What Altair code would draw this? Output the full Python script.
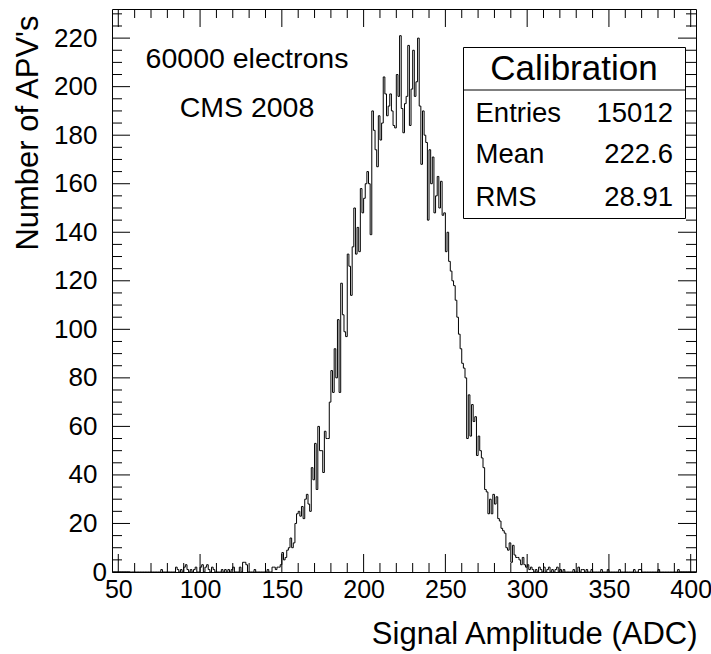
import altair as alt
import pandas as pd

# ---------------- data ----------------
bin_width = 1
first_bin = 46
last_bin = 403

# sparse low-count tails
tail_left_bins = [76, 85, 86, 88, 90, 91, 92, 94, 96, 97, 100, 101, 103, 104, 105, 107, 108,
                  113, 115, 117, 119, 120, 124, 126, 127, 128, 133, 141, 144, 145]
tail_left_counts = [1, 2, 1, 1, 2, 3, 1, 1, 1, 2, 2, 3, 2, 3, 1, 2, 1,
                    1, 1, 1, 1, 2, 2, 4, 4, 3, 1, 1, 2, 2]

core_start = 146
core_counts = [
    1, 2, 2, 3, 8, 5, 6, 9, 10, 14,            # 146-155
    10, 12, 20, 24, 25, 23, 27, 22, 30, 32,     # 156-165
    28, 25, 43, 38, 53, 34, 60, 50, 50, 41,     # 166-175
    58, 55, 55, 70, 83, 74, 92, 80, 104, 74,    # 176-185
    119, 106, 99, 97, 131, 126, 114, 134, 150, 131,    # 186-195
    142, 132, 158, 148, 154, 160, 165, 160, 139, 190,  # 196-205
    182, 174, 167, 188, 178, 185, 204, 197, 188, 192,  # 206-215
    197, 190, 184, 183, 205, 196, 221, 191, 181, 193,  # 216-225
    196, 217, 184, 199, 215, 196, 202, 220, 192, 168,  # 226-235
    190, 180, 177, 145, 174, 160, 171, 148, 155, 163,  # 236-245
    150, 161, 147, 148, 132, 140, 128, 124, 120, 118,  # 246-255
    112, 105, 98, 92, 86, 84, 80, 55, 73, 56,          # 256-265
    69, 62, 64, 48, 56, 50, 47, 43, 34, 33,            # 266-275
    24, 30, 24, 32, 28, 31, 22, 21, 18, 17,            # 276-285
    16, 10, 9, 12, 4, 11, 7, 6, 6, 5,                  # 286-295
    3, 6, 3, 2, 3, 1, 2, 1,                            # 296-303
]

tail_right_bins = [305, 307, 308, 310, 312, 313, 315, 317, 318, 320, 322, 328, 331, 333,
                   334, 336, 339, 345, 349, 356, 365, 368, 369, 380, 392]
tail_right_counts = [1, 2, 1, 2, 1, 2, 1, 1, 2, 1, 1, 1, 2, 1,
                     1, 1, 1, 1, 1, 1, 1, 1, 1, 1, 1]

x_major = [50, 100, 150, 200, 250, 300, 350, 400]
x_minor = [60, 70, 80, 90, 110, 120, 130, 140, 160, 170, 180, 190, 210, 220, 230, 240,
           260, 270, 280, 290, 310, 320, 330, 340, 360, 370, 380, 390]
y_major = [0, 20, 40, 60, 80, 100, 120, 140, 160, 180, 200, 220]
y_minor = [5, 10, 15, 25, 30, 35, 45, 50, 55, 65, 70, 75, 85, 90, 95, 105, 110, 115,
           125, 130, 135, 145, 150, 155, 165, 170, 175, 185, 190, 195, 205, 210, 215,
           225, 230]

x_domain = [46.15, 403.24]
y_domain = [0, 232]

stats_title = "Calibration"
stats_names = ["Entries", "Mean", "RMS"]
stats_values = ["15012", "222.6", "28.91"]
notes = ["60000 electrons", "CMS 2008"]

# ---------------- build table ----------------
counts = {b: 0 for b in range(first_bin, last_bin + 1)}
for b, c in zip(tail_left_bins, tail_left_counts):
    counts[b] = c
for i, c in enumerate(core_counts):
    counts[core_start + i] = c
for b, c in zip(tail_right_bins, tail_right_counts):
    counts[b] = c
edges = sorted(counts)
hist = pd.DataFrame({"x": edges, "n": [counts[b] for b in edges]})
hist = pd.concat([hist, pd.DataFrame({"x": [last_bin + bin_width], "n": [counts[last_bin]]})],
                 ignore_index=True)

W, H = 584, 563
FONT = "Liberation Sans"
xs = alt.Scale(domain=x_domain, nice=False, zero=False)
ys = alt.Scale(domain=y_domain, nice=False, zero=False)

line = alt.Chart(hist).mark_line(
    interpolate="step-after", color="black", strokeWidth=1, clip=True
).encode(
    x=alt.X("x:Q", scale=xs,
            axis=alt.Axis(values=x_major, ticks=False, domain=False, grid=False,
                          labelFont=FONT, labelFontSize=25, labelColor="black",
                          labelPadding=5, labelFlush=False, labelOverlap=False,
                          title="Signal Amplitude (ADC)", titleFont=FONT,
                          titleFontSize=31, titleFontWeight="normal",
                          titleColor="black", titleAlign="right", titleAnchor="end",
                          titleX=W + 1, titleY=71, titleBaseline="alphabetic")),
    y=alt.Y("n:Q", scale=ys,
            axis=alt.Axis(values=y_major[1:], ticks=False, domain=False, grid=False,
                          labelFont=FONT, labelFontSize=26, labelColor="black",
                          labelPadding=15, labelOverlap=False,
                          title="Number of APV's", titleFont=FONT, titleFontSize=31,
                          titleFontWeight="normal", titleColor="black",
                          titleAngle=-90, titleAlign="right", titleAnchor="end",
                          titleX=-75, titleY=6, titleBaseline="alphabetic")),
)

# the "0" label of the y axis sits closer to the frame, as in the reference
zero_lbl = alt.Chart(pd.DataFrame({"v": [y_major[0]], "t": [str(y_major[0])]})).mark_text(
    font=FONT, fontSize=26, align="right", baseline="middle", color="black", dy=1
).encode(text="t:N", x=alt.value(-5), y=alt.Y("v:Q", scale=ys, axis=None))

xt_major = pd.DataFrame({"v": x_major})
xt_minor = pd.DataFrame({"v": x_minor})
yt_major = pd.DataFrame({"v": y_major})
yt_minor = pd.DataFrame({"v": y_minor})

def xticks(df, length):
    base = alt.Chart(df).mark_rule(color="black", strokeWidth=1)
    bottom = base.encode(x=alt.X("v:Q", scale=xs, axis=None),
                         y=alt.value(H), y2=alt.value(H - length))
    top = base.encode(x=alt.X("v:Q", scale=xs, axis=None),
                      y=alt.value(0), y2=alt.value(length))
    return [bottom, top]

def yticks(df, length):
    base = alt.Chart(df).mark_rule(color="black", strokeWidth=1)
    left = base.encode(y=alt.Y("v:Q", scale=ys, axis=None),
                       x=alt.value(0), x2=alt.value(length))
    right = base.encode(y=alt.Y("v:Q", scale=ys, axis=None),
                        x=alt.value(W), x2=alt.value(W - length))
    return [left, right]

ticks = xticks(xt_major, 18) + xticks(xt_minor, 9) + yticks(yt_major, 18) + yticks(yt_minor, 10)

# stats box
box_df = pd.DataFrame({"k": [0]})
box = alt.Chart(box_df).mark_rect(fill="white", stroke="black", strokeWidth=1).encode(
    x=alt.value(351.5), x2=alt.value(573.5), y=alt.value(38.5), y2=alt.value(209.5))
divider = alt.Chart(box_df).mark_rule(color="black", strokeWidth=1).encode(
    x=alt.value(351.5), x2=alt.value(573.5), y=alt.value(81))
title_txt = alt.Chart(pd.DataFrame({"t": [stats_title]})).mark_text(
    font=FONT, fontSize=35, align="center", baseline="alphabetic", color="black"
).encode(text="t:N", x=alt.value(462), y=alt.value(71))

rows = pd.DataFrame({"name": stats_names, "val": stats_values,
                     "yy": [112.7, 154.3, 196.7]})
names_txt = alt.Chart(rows).mark_text(
    font=FONT, fontSize=27.5, align="left", baseline="alphabetic", color="black"
).encode(text="name:N", x=alt.value(363.5), y=alt.Y("yy:Q", scale=None, axis=None))
vals_txt = alt.Chart(rows).mark_text(
    font=FONT, fontSize=27.5, align="right", baseline="alphabetic", color="black"
).encode(text="val:N", x=alt.value(561), y=alt.Y("yy:Q", scale=None, axis=None))

notes_df = pd.DataFrame({"t": notes, "yy": [59, 107.5]})
notes_txt = alt.Chart(notes_df).mark_text(
    font=FONT, fontSize=28.5, align="center", baseline="alphabetic", color="black"
).encode(text="t:N", x=alt.value(135), y=alt.Y("yy:Q", scale=None, axis=None))

chart = alt.layer(
    line, zero_lbl, *ticks, box, divider, title_txt, names_txt, vals_txt, notes_txt
).resolve_axis(x="independent", y="independent").properties(
    width=W, height=H,
    autosize=alt.AutoSizeParams(type="none"),
    padding={"left": 112, "top": 9, "right": 15, "bottom": 82},
    background="white",
).configure_view(stroke="black", strokeWidth=1)

chart.save("out.html", embed_options={"renderer": "svg", "actions": False})
